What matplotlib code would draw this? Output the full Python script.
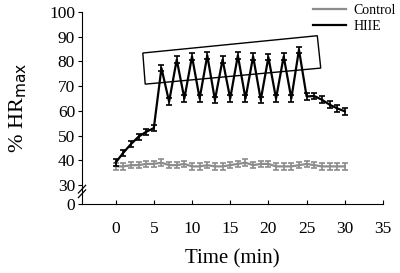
import matplotlib.pyplot as plt
import numpy as np
from matplotlib.lines import Line2D
from matplotlib.patches import Polygon

plt.rcParams['font.family'] = ['Liberation Serif', 'DejaVu Serif']

# time points (min)
time = list(range(0, 31))

# % HRmax, control group
control = [37.5, 37.5, 38, 38, 38.5, 38.5, 39, 38, 38, 38.5, 37.5,
           37.5, 38, 37.5, 37.5, 38, 38.5, 39, 38, 38.5, 38.5,
           37.5, 37.5, 37.5, 38, 38.5, 38, 37.5, 37.5, 37.5, 37.5]
control_err = [1.3] * 31

# % HRmax, HIIE group
hiie = [39, 43, 46.5, 49.5, 51.5, 53, 77.3, 63.7, 80.7, 65, 82,
        65, 82.4, 64.4, 80.7, 65, 82.4, 65, 82, 64.4, 81.7,
        65, 82, 65, 84.7, 65.8, 66, 64.5, 62.5, 61, 59.8]
hiie_err = [1.3] * 31

# annotation box around the interval block (data coords)
box_corners = [(3.56, 83.4), (26.4, 90.4), (26.85, 77.3), (3.87, 70.8)]

y_zero_pos = 22.3  # where "0" sits on the broken axis

fig = plt.figure(figsize=(4.0, 2.73), dpi=100)
ax = fig.add_axes([0.205, 0.253, 0.7525, 0.703])

ax.errorbar(time, control, yerr=control_err, color='#8c8c8c', lw=1.6,
            capsize=2.4, capthick=1.2, elinewidth=1.2, zorder=2)
ax.errorbar(time, hiie, yerr=hiie_err, color='black', lw=1.6,
            capsize=2.4, capthick=1.2, elinewidth=1.2, zorder=3)

ax.add_patch(Polygon(box_corners, closed=True, fill=False,
                     edgecolor='black', lw=1.0, zorder=4))

ax.set_xlim(-4.4, 35)
ax.set_ylim(y_zero_pos, 100)
ax.set_xticks([0, 5, 10, 15, 20, 25, 30, 35])
ax.set_yticks([y_zero_pos, 30, 40, 50, 60, 70, 80, 90, 100])
ax.set_yticklabels(['0', '30', '40', '50', '60', '70', '80', '90', '100'])

ax.spines['top'].set_visible(False)
ax.spines['right'].set_visible(False)
ax.tick_params(axis='x', direction='in', length=3, labelsize=12.5, pad=12)
ax.tick_params(axis='y', direction='out', length=3, labelsize=12.5, pad=2)

ax.set_xlabel('Time (min)', fontsize=15, labelpad=9)
ax.set_ylabel('% HR$_{\\mathrm{max}}$', fontsize=16)
ax.yaxis.set_label_coords(-0.175, 0.5)

# axis break marks
for dy in (-0.012, 0.012):
    ax.plot([-0.012, 0.012], [0.065 + dy - 0.02, 0.065 + dy + 0.02],
            transform=ax.transAxes, color='black', lw=0.9, clip_on=False)

handles = [Line2D([], [], color='#8c8c8c', lw=1.6),
           Line2D([], [], color='black', lw=1.6)]
fig.legend(handles, ['Control', 'HIIE'], loc='upper right',
           bbox_to_anchor=(1.02, 1.03), frameon=False, fontsize=10,
           handlelength=2.4, labelspacing=0.2, handletextpad=0.5)

fig.savefig('out.png', dpi=100)
